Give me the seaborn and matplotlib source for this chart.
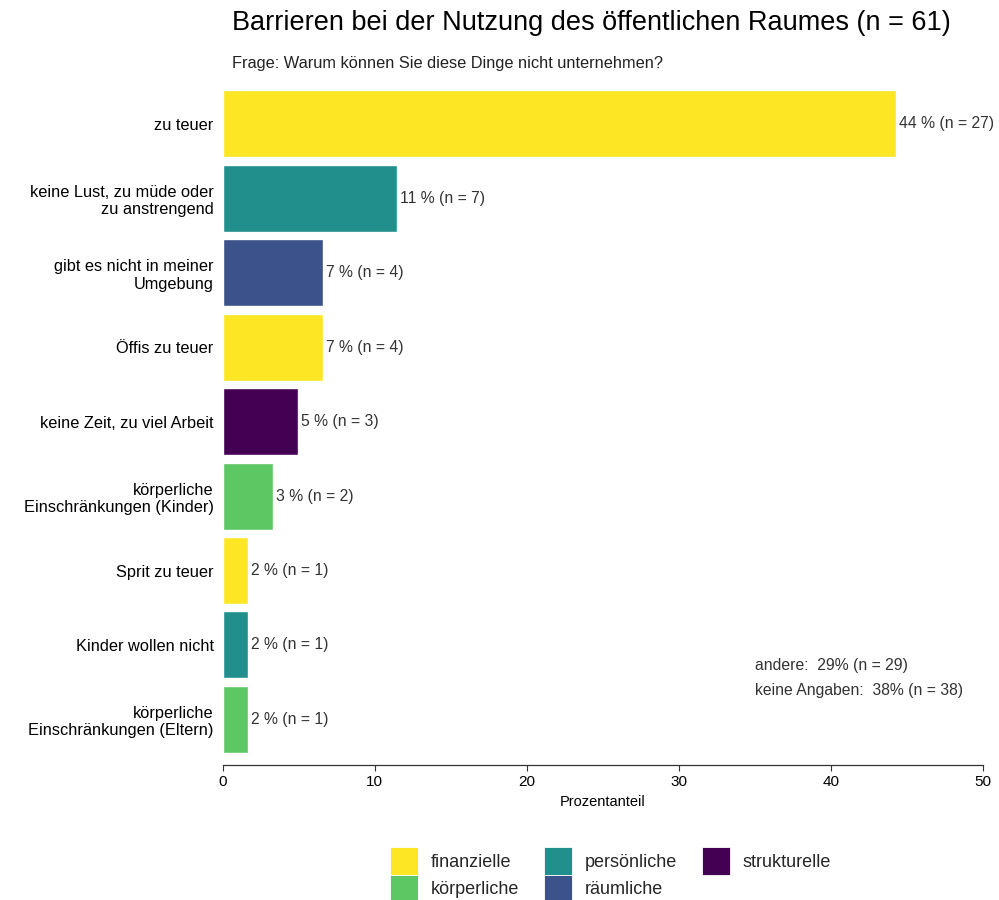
import matplotlib
matplotlib.use("Agg")
import matplotlib.pyplot as plt
import matplotlib.patches as mpatches
import seaborn as sns
import pandas as pd

# data
labels = ["zu teuer",
          "keine Lust, zu müde oder\nzu anstrengend",
          "gibt es nicht in meiner\nUmgebung",
          "Öffis zu teuer",
          "keine Zeit, zu viel Arbeit",
          "körperliche\nEinschränkungen (Kinder)",
          "Sprit zu teuer",
          "Kinder wollen nicht",
          "körperliche\nEinschränkungen (Eltern)"]
groups = ["finanzielle", "persönliche", "räumliche", "finanzielle", "strukturelle",
          "körperliche", "finanzielle", "persönliche", "körperliche"]
percents = [44.26, 11.48, 6.56, 6.56, 4.92, 3.28, 1.64, 1.64, 1.64]
counts = [27, 7, 4, 4, 3, 2, 1, 1, 1]

group_order = ["finanzielle", "körperliche", "persönliche", "räumliche", "strukturelle"]
group_colors = ["#FDE725", "#5DC863", "#21908C", "#3B528B", "#440154"]

extra_text = ["andere:  29% (n = 29)", "keine Angaben:  38% (n = 38)"]

df = pd.DataFrame({"label": labels, "group": groups, "pct": percents, "n": counts})
palette = dict(zip(group_order, group_colors))

sns.set_theme(style="white")
plt.rcParams["font.family"] = ["Liberation Sans", "DejaVu Sans"]

fig = plt.figure(figsize = (9.99, 9.0), dpi = 100)
ax = fig.add_axes([0.223, 0.151, 0.761, 0.761])

sns.barplot(data = df, x = "pct", y = "label", hue = "group", hue_order = group_order,
            palette = palette, dodge = False, width = 0.9, orient = "h", legend = False,
            saturation = 1, ax = ax)

for i, row in df.iterrows():
    ax.text(row["pct"] + 0.2, i, str(int(round(row["pct"]))) + " % (n = " + str(row["n"]) + ")",
            va = "center", ha = "left", fontsize = 11.3, color = "#333333")

ax.text(35.0, 7.27, extra_text[0], fontsize = 11.3, color = "#333333", va = "center")
ax.text(35.0, 7.61, extra_text[1], fontsize = 11.3, color = "#333333", va = "center")

ax.set_xlim(0, 50)
ax.set_ylim(8.6, -0.6)
ax.set_xticks([0, 10, 20, 30, 40, 50])
ax.set_xlabel("Prozentanteil", fontsize = 10.5, color = "black")
ax.set_ylabel("")
ax.tick_params(axis = "x", bottom = True, length = 4, width = 0.8, color = "#333333", labelsize = 11, labelcolor = "black", pad = 3)
ax.tick_params(axis = "y", left = False, labelsize = 11.8, labelcolor = "black", pad = 0.5)
for side in ["top", "right", "left"]:
    ax.spines[side].set_visible(False)
ax.spines["bottom"].set_color("#333333")
ax.spines["bottom"].set_linewidth(0.9)
ax.spines["bottom"].set_position(("outward", 1))

fig.text(0.232, 0.974, "Barrieren bei der Nutzung des öffentlichen Raumes (n = 61)",
         fontsize = 19.5, va = "center", ha = "left", color = "black")
fig.text(0.232, 0.929, "Frage: Warum können Sie diese Dinge nicht unternehmen?",
         fontsize = 11.8, va = "center", ha = "left", color = "#222222")

handles = [mpatches.Patch(facecolor = c, edgecolor = "white", linewidth = 0.6, label = g) for g, c in zip(group_order, group_colors)]
fig.legend(handles = handles, ncol = 3, loc = "lower center", bbox_to_anchor = (0.611, -0.021),
           frameon = False, fontsize = 13, handlelength = 1.55, handleheight = 2.0,
           handletextpad = 0.7, columnspacing = 1.4, labelspacing = 0.0)

plt.savefig("out.png", dpi = 100)
plt.close()
